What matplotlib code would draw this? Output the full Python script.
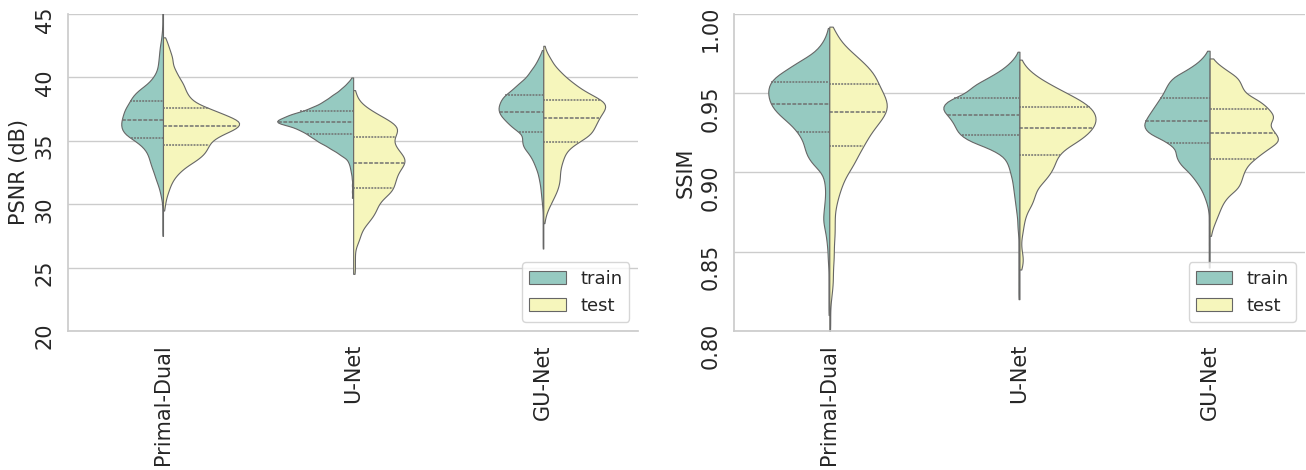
import matplotlib
matplotlib.use('Agg')
import matplotlib.pyplot as plt
import numpy as np
import pandas as pd
import seaborn as sns

models = ['Primal-Dual', 'U-Net', 'GU-Net']
sets = ['train', 'test']

# histogram counts (PSNR bins of 0.5 dB, first bin centre given)
psnr_step = 0.5
pd_train_psnr = (27.5, [1, 1, 1, 1, 1, 1, 3, 5, 8, 12, 15, 19, 22, 25, 32, 45, 62, 68, 68, 65, 62,
                        55, 50, 40, 25, 16, 10, 8, 7, 6, 5, 3, 2, 1, 1, 1, 1])
pd_test_psnr = (29.5, [1, 2, 3, 5, 7, 10, 15, 22, 32, 39, 42, 45, 55, 70, 74, 60, 45, 30, 24, 21,
                       19, 15, 12, 9, 9, 7, 5, 3])
unet_train_psnr = (30.5, [1, 1, 1, 1, 2, 3, 5, 13, 22, 32, 40, 50, 70, 58, 40, 28, 20, 12, 6, 1])
unet_test_psnr = (24.5, [1, 1, 1, 1, 1, 3, 4, 5, 8, 11, 13, 14, 17, 22, 23, 24, 25, 28, 30, 27,
                         24, 22, 24, 26, 22, 15, 9, 4, 2, 1])
gunet_train_psnr = (26.5, [1, 1, 1, 1, 1, 1, 1, 2, 3, 4, 5, 7, 9, 13, 17, 23, 32, 34, 32, 48, 58,
                           68, 72, 69, 64, 50, 40, 27, 21, 13, 8, 3])
gunet_test_psnr = (28.5, [1, 2, 4, 7, 10, 13, 15, 16, 16, 17, 19, 21, 26, 36, 46, 49, 52, 55, 60,
                          61, 50, 38, 30, 22, 16, 10, 7, 3, 1])

# SSIM bins of 0.005
ssim_step = 0.005
pd_train_ssim = (0.810, [1, 1, 1, 1, 1, 1, 1, 2, 2, 3, 4, 6, 8, 7, 6, 5, 5, 6, 9, 20, 27, 30, 32,
                         38, 46, 58, 68, 73, 75, 74, 68, 52, 38, 20, 11, 5, 2])
pd_test_ssim = (0.800, [1, 1, 1, 1, 2, 3, 4, 4, 4, 5, 5, 5, 6, 6, 6, 6, 8, 10, 13, 16, 21, 27, 31,
                        36, 41, 46, 53, 60, 65, 64, 60, 55, 52, 46, 37, 27, 17, 10, 6])
unet_train_ssim = (0.820, [1, 1, 1, 1, 1, 1, 1, 1, 1, 2, 2, 3, 4, 5, 6, 7, 9, 11, 15, 28, 50, 60,
                           63, 68, 76, 72, 52, 45, 30, 17, 8, 2])
unet_test_ssim = (0.840, [2, 3, 2, 1, 2, 3, 4, 6, 10, 12, 14, 20, 25, 28, 30, 36, 47, 55, 60, 61,
                          58, 50, 38, 26, 15, 7, 2])
gunet_train_ssim = (0.840, [1, 1, 1, 1, 1, 1, 1, 1, 3, 6, 10, 16, 23, 33, 38, 38, 50, 70, 75, 70,
                            64, 58, 52, 48, 42, 25, 12, 4])
gunet_test_ssim = (0.860, [1, 3, 6, 9, 12, 17, 27, 30, 32, 36, 45, 55, 67, 62, 55, 62, 56, 48, 33,
                           30, 27, 15, 5])


def expand(hist, step):
    start, counts = hist
    vals = []
    for i, c in enumerate(counts):
        centre = start + i * step
        vals.extend(centre + step * ((np.arange(c) + 0.5) / c - 0.5))
    return vals


def make_frame(hists, step):
    rows = []
    for model, pair in zip(models, hists):
        for s, hist in zip(sets, pair):
            for v in expand(hist, step):
                rows.append((model, s, v))
    return pd.DataFrame(rows, columns=['model', 'set', 'value'])


psnr = make_frame([(pd_train_psnr, pd_test_psnr), (unet_train_psnr, unet_test_psnr),
                   (gunet_train_psnr, gunet_test_psnr)], psnr_step)
ssim = make_frame([(pd_train_ssim, pd_test_ssim), (unet_train_ssim, unet_test_ssim),
                   (gunet_train_ssim, gunet_test_ssim)], ssim_step)

sns.set_theme(style='whitegrid')
fig, axs = plt.subplots(1, 2, figsize=(13.06, 4.7), dpi=100)
ax1, ax2 = axs

for ax, df, label in [(ax1, psnr, 'PSNR (dB)'), (ax2, ssim, 'SSIM')]:
    sns.violinplot(data=df, x='model', y='value', hue='set', split=True, inner='quart',
                   cut=0, bw_adjust=0.45, palette='Set3', linewidth=0.8, linecolor='#666666',
                   inner_kws=dict(color='#707070', linewidth=1.1), ax=ax)
    ax.set_xlabel('')
    ax.set_ylabel(label, fontsize=15)
    ax.tick_params(axis='x', labelrotation=90, labelsize=15)
    ax.tick_params(axis='y', labelrotation=90, labelsize=15)
    ax.set_xlim(-0.5, 2.5)
    sns.move_legend(ax, 'lower right', title=None, fontsize=13)

ax1.set_ylim(20, 45)
ax1.set_yticks([20, 25, 30, 35, 40, 45])
ax2.set_ylim(0.80, 1.00)
ax2.set_yticks([0.80, 0.85, 0.90, 0.95, 1.00])
ax2.set_yticklabels(['0.80', '0.85', '0.90', '0.95', '1.00'])

sns.despine()
plt.subplots_adjust(left=0.052, right=0.999, bottom=0.296, top=0.97, wspace=0.168)
plt.savefig('out.png')
